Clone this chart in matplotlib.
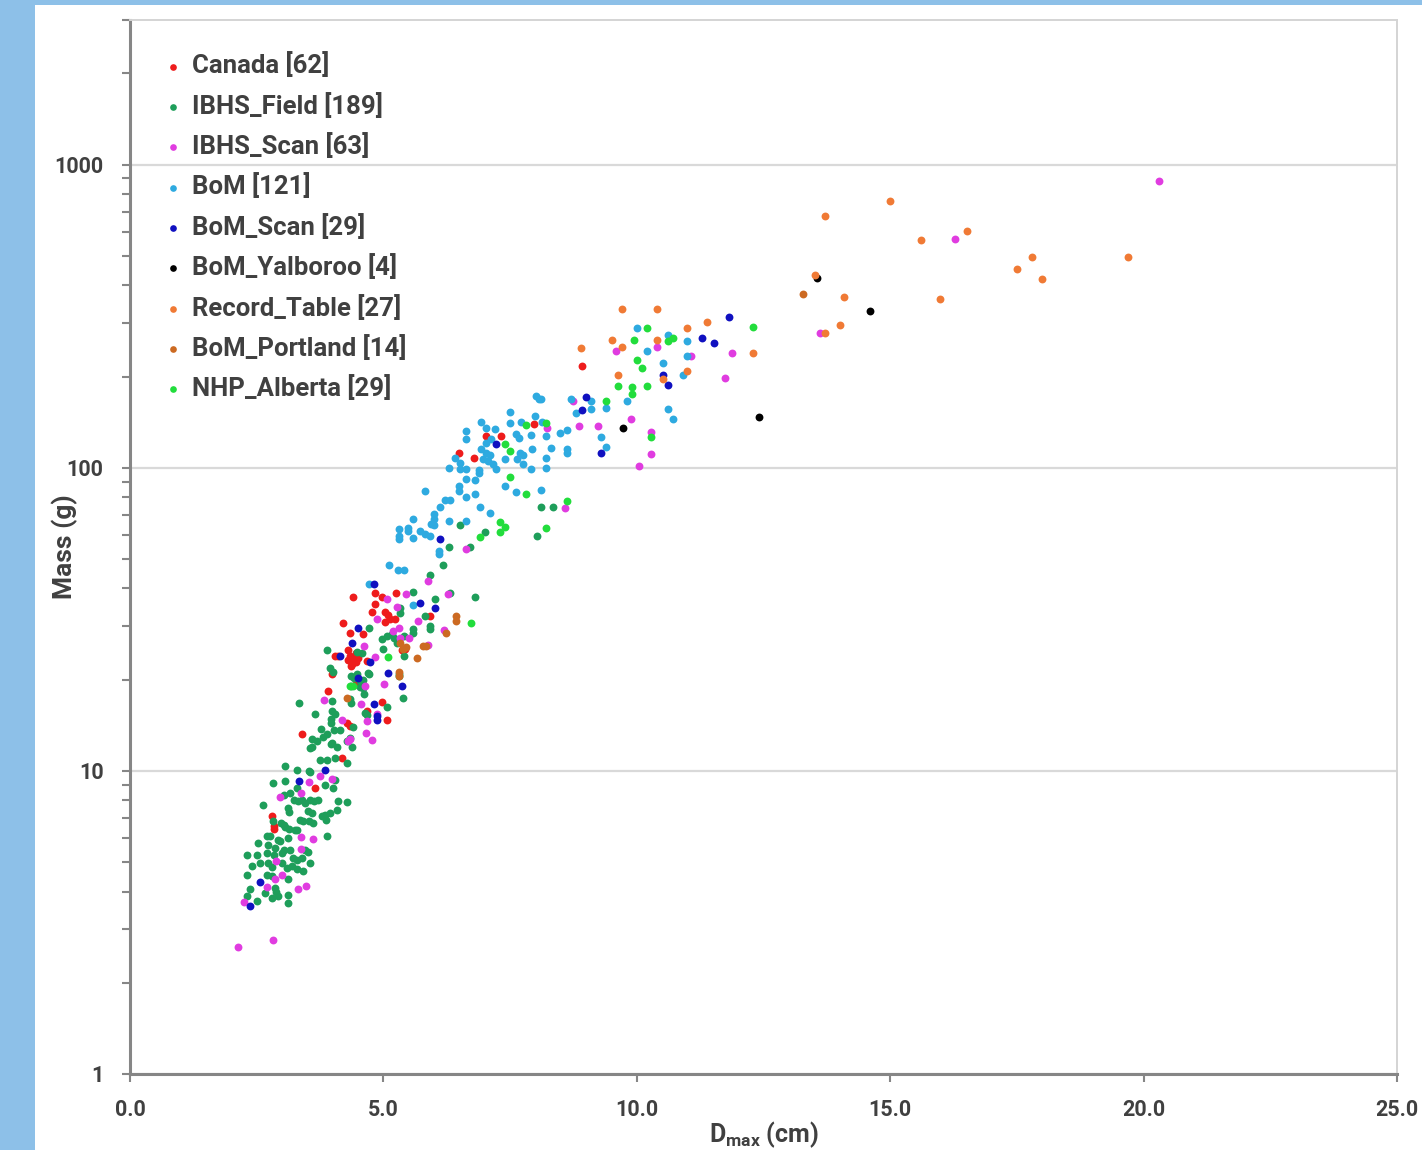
import matplotlib
matplotlib.use("Agg")
import matplotlib.pyplot as plt
from matplotlib.patches import Rectangle
from matplotlib.ticker import LogLocator, NullFormatter, FormatStrFormatter

plt.rcParams['font.family'] = ['Roboto', 'DejaVu Sans']
plt.rcParams['font.weight'] = 'bold'
plt.rcParams['axes.labelweight'] = 'bold'
plt.rcParams['mathtext.fontset'] = 'custom'
plt.rcParams['mathtext.rm'] = 'Roboto:bold'
plt.rcParams['mathtext.default'] = 'regular'

# Dmax (cm) and mass (g)
canada_d = [4.41, 4.83, 4.98, 5.24, 4.83, 4.78, 5.04, 5.09, 5.13, 5.22, 5.92, 4.21, 5.04, 4.34,
            4.60, 5.43, 5.36, 4.31, 4.37, 4.42, 4.34, 4.46, 4.39, 4.05, 4.11, 4.67, 3.98, 3.91,
            4.46, 4.97, 4.67, 4.28, 4.34, 5.07, 3.40, 4.18, 2.80, 2.84, 2.85, 3.65, 7.02, 7.33,
            6.50, 6.78, 7.98, 8.91, 4.40, 4.45, 4.36, 4.50, 4.30]
canada_m = [37.6, 38.5, 37.6, 38.5, 35.4, 33.5, 33.4, 32.6, 31.8, 31.8, 32.4, 30.8, 31.0, 28.6,
            28.3, 25.2, 25.0, 23.3, 23.0, 23.6, 24.0, 22.9, 22.6, 24.0, 24.0, 23.0, 20.9, 18.4,
            19.3, 16.9, 15.8, 14.4, 14.1, 14.7, 13.2, 11.0, 7.12, 6.56, 6.43, 8.79, 127, 127,
            112, 108, 139, 216, 23.2, 24.4, 22.2, 23.5, 25.0]

field_d = [2.83, 3.06, 3.55, 4.05, 4.01, 3.85, 3.16, 3.29, 3.03, 3.24, 3.31, 3.39, 3.45, 3.55,
           3.64, 3.70, 4.10, 4.28, 2.63, 3.11, 3.14, 3.52, 3.60, 3.85, 3.95, 4.08, 2.83, 2.98,
           3.03, 3.06, 3.14, 3.26, 3.35, 3.42, 3.53, 3.62, 3.78, 3.86, 2.70, 2.76, 2.93, 2.96,
           3.12, 3.29, 3.88, 2.53, 2.72, 2.86, 3.03, 3.16, 3.45, 3.51, 2.30, 2.50, 2.70, 2.85,
           2.99, 3.22, 3.29, 3.39, 3.55, 2.40, 2.57, 2.73, 2.80, 2.99, 3.09, 3.19, 3.29, 3.42,
           2.30, 2.70, 2.80, 3.12, 2.37, 2.86, 2.89, 2.93, 3.12, 2.30, 2.80, 3.11, 2.50, 2.66,
           6.17, 5.92, 5.59, 6.02, 5.92, 5.92, 6.81, 5.33, 5.33, 4.72, 4.97, 5.07, 5.16, 5.20,
           5.59, 5.41, 5.26, 4.99, 3.88, 4.47, 5.41, 3.95, 4.00, 4.37, 4.47, 4.37, 4.54, 4.70,
           4.60, 4.62, 5.31, 5.31, 5.39, 3.34, 3.65, 3.98, 4.05, 3.96, 3.96, 4.41, 3.76, 3.88,
           4.03, 4.14, 3.59, 3.68, 3.81, 3.98, 4.09, 4.28, 4.39, 3.55, 3.74, 3.88, 4.05, 3.06,
           3.29, 3.54, 4.28, 8.10, 8.35, 8.04, 6.52, 7.01, 6.30, 6.71, 6.32, 5.83, 5.59, 4.57,
           4.72, 4.42, 4.59, 4.54, 3.98, 4.34, 4.37, 5.07, 4.64, 4.68, 4.34, 3.60, 3.97]
field_m = [9.12, 9.23, 9.95, 9.35, 8.77, 8.99, 8.45, 8.77, 8.34, 8.00, 7.93, 8.04, 7.83, 8.04,
           7.93, 8.00, 7.93, 7.87, 7.69, 7.53, 7.29, 7.35, 7.26, 7.16, 7.26, 7.45, 6.81, 6.73,
           6.64, 6.53, 6.43, 6.40, 6.90, 6.81, 6.81, 6.73, 7.11, 6.87, 6.08, 6.08, 5.93, 5.85,
           6.00, 6.40, 6.08, 5.78, 5.70, 5.56, 5.50, 5.50, 5.50, 5.42, 5.28, 5.28, 5.36, 5.28,
           5.36, 5.15, 5.09, 5.15, 4.97, 4.84, 4.97, 4.97, 4.81, 4.97, 4.78, 4.84, 4.74, 4.69,
           4.54, 4.54, 4.49, 4.40, 4.07, 4.10, 4.00, 3.87, 3.90, 3.87, 3.80, 3.66, 3.71, 3.95,
           47.6, 44.2, 38.8, 36.8, 30.1, 29.3, 37.6, 34.5, 33.3, 29.6, 27.2, 27.9, 28.2, 27.5,
           29.3, 27.9, 26.5, 25.3, 25.0, 24.6, 23.9, 21.9, 21.2, 20.6, 20.8, 19.0, 19.8, 21.1,
           18.8, 17.9, 20.8, 20.6, 17.4, 16.7, 15.4, 15.7, 15.4, 14.8, 14.4, 14.0, 13.7, 13.2,
           13.6, 13.6, 12.7, 12.5, 12.9, 12.4, 12.0, 12.5, 12.0, 11.9, 10.9, 10.9, 11.0, 10.4,
           10.1, 9.98, 10.6, 74.5, 74.5, 59.7, 64.9, 61.2, 54.6, 54.8, 38.5, 32.4, 28.6, 24.5,
           20.9, 20.2, 20.0, 18.9, 17.0, 17.2, 16.8, 16.2, 15.5, 15.3, 12.8, 12.0, 12.3]

scan_d = [20.30, 16.28, 13.61, 9.59, 10.39, 11.07, 11.87, 11.74, 8.75, 9.88, 8.85, 9.23, 10.29,
          10.29, 10.04, 8.23, 6.62, 8.58, 5.88, 6.27, 5.08, 5.45, 5.27, 4.88, 5.30, 5.69, 5.51,
          6.20, 5.88, 4.62, 5.18, 5.33, 4.84, 4.64, 5.01, 3.82, 4.56, 4.18, 4.68, 4.88, 4.31,
          4.35, 4.66, 4.77, 3.75, 3.98, 3.54, 3.37, 2.95, 3.37, 3.62, 3.37, 2.89, 2.86, 2.99,
          2.70, 3.31, 3.47, 2.25, 2.83, 2.14]
scan_m = [880, 569, 278, 242, 251, 233, 239, 198, 166, 145, 137, 137, 131, 111, 101, 135, 53.8,
          73.5, 42.2, 38.3, 36.8, 38.3, 34.8, 31.8, 29.7, 31.3, 27.4, 29.2, 26.0, 25.8, 28.9,
          27.5, 23.8, 19.0, 19.4, 17.1, 16.6, 14.7, 14.6, 15.4, 12.5, 12.7, 13.3, 12.6, 9.6,
          9.4, 9.2, 8.45, 8.2, 6.05, 5.97, 5.53, 5.05, 4.40, 4.54, 4.13, 4.07, 4.18, 3.69,
          2.77, 2.63]

bom_d = [10.00, 10.62, 11.00, 10.20, 10.52, 11.00, 10.91, 8.71, 9.10, 9.10, 8.81, 9.39, 9.81,
         10.62, 10.71, 9.29, 9.39, 8.62, 8.49, 8.62, 8.62, 8.30, 8.20, 8.20, 8.20, 8.11, 8.12,
         7.50, 8.00, 7.49, 6.92, 7.03, 7.20, 7.72, 6.63, 6.63, 7.62, 7.68, 7.91, 7.03, 7.12,
         6.92, 6.41, 6.51, 7.03, 7.10, 6.97, 7.07, 7.17, 7.22, 7.40, 7.70, 7.75, 7.63, 7.76,
         7.93, 6.30, 6.51, 6.63, 6.63, 6.81, 6.89, 6.89, 6.49, 6.49, 6.62, 6.81, 7.40, 7.62,
         7.91, 8.10, 5.82, 6.91, 7.10, 6.12, 6.22, 6.31, 6.00, 6.00, 5.93, 6.00, 6.30, 5.59,
         5.49, 5.49, 5.31, 5.31, 5.31, 5.59, 5.72, 5.82, 5.91, 6.63, 6.10, 6.10, 5.12, 5.29,
         5.41, 4.72, 8.02, 8.08, 5.59]
bom_m = [288, 274, 261, 242, 222, 233, 203, 169, 166, 156, 151, 158, 166, 156, 145, 126, 117,
         133, 130, 115, 112, 116, 127, 108, 100, 169, 142, 153, 148, 141, 142, 135, 134, 142,
         132, 124, 129, 125, 128, 121, 124, 115, 108, 104, 112, 110, 107, 105, 103, 99, 107,
         112, 110, 107, 103, 115, 99.5, 99, 99, 91.8, 91, 98, 96, 87, 84, 80, 82, 87, 83, 99,
         84.5, 83.6, 74.5, 70.8, 74.5, 78.3, 78.3, 70.3, 67.8, 65.2, 64.7, 66.5, 67.8, 63.5,
         62.0, 62.7, 59.6, 58.1, 58.5, 62.0, 60.4, 59.6, 66.5, 53.2, 51.9, 47.9, 46.0, 46.0,
         41.3, 172, 168, 35.3]

bomscan_d = [11.81, 11.29, 11.52, 10.52, 10.62, 9.00, 8.91, 9.29, 7.22, 6.11, 4.81, 5.72, 6.02,
             4.50, 4.39, 4.14, 4.74, 4.49, 5.10, 5.36, 4.81, 4.87, 4.87, 3.85, 3.34, 2.57, 2.37]
bomscan_m = [314, 267, 257, 203, 188, 171, 155, 112, 120, 58, 41.3, 35.9, 34.4, 29.5, 26.4, 24.0,
             22.9, 20.3, 21.0, 19.0, 16.6, 14.7, 15.2, 10.1, 9.24, 4.29, 3.59]

yal_d = [13.56, 14.60, 12.41, 9.73]
yal_m = [423, 329, 147, 135]

record_d = [13.71, 15.00, 15.61, 16.51, 17.80, 17.50, 17.99, 19.69, 13.51, 14.09, 15.99, 14.00,
            13.71, 9.71, 10.39, 8.90, 11.00, 11.39, 9.52, 10.39, 9.71, 12.29, 9.62, 10.52, 11.00]
record_m = [678, 758, 564, 606, 497, 451, 418, 497, 434, 365, 361, 295, 278, 334, 334, 248, 288,
            303, 264, 264, 251, 239, 203, 196, 209]

portland_d = [13.28, 6.43, 6.43, 6.23, 5.79, 5.66, 5.31, 5.31, 5.45, 5.33, 4.28, 5.85, 5.39]
portland_m = [375, 32.4, 31.2, 28.4, 25.9, 23.5, 21.2, 20.5, 25.6, 26.5, 17.4, 25.9, 25.2]

nhp_d = [10.20, 12.29, 9.95, 10.62, 10.71, 10.00, 10.10, 9.62, 9.91, 9.91, 10.20, 9.39, 8.20,
         10.29, 7.81, 7.40, 7.50, 7.50, 7.81, 7.30, 7.40, 7.30, 6.91, 8.20, 8.62, 6.73, 5.10,
         4.34, 4.41]
nhp_m = [288, 291, 264, 261, 267, 227, 213, 186, 184, 175, 186, 166, 140, 126, 138, 120, 114,
         93, 82, 66.4, 64, 61.5, 58.9, 63.5, 77.6, 30.8, 23.8, 19.1, 19.1]

series = [
    ("Canada [62]", canada_d, canada_m, "#ee1c1c"),
    ("IBHS_Field [189]", field_d, field_m, "#1e9e5a"),
    ("IBHS_Scan [63]", scan_d, scan_m, "#e03ce0"),
    ("BoM [121]", bom_d, bom_m, "#2eaae0"),
    ("BoM_Scan [29]", bomscan_d, bomscan_m, "#1010c0"),
    ("BoM_Yalboroo [4]", yal_d, yal_m, "#000000"),
    ("Record_Table [27]", record_d, record_m, "#f07a35"),
    ("BoM_Portland [14]", portland_d, portland_m, "#cc6a22"),
    ("NHP_Alberta [29]", nhp_d, nhp_m, "#22dd3c"),
]

fig = plt.figure(figsize=(14.22, 11.5), dpi=100)
fig.patch.set_facecolor("#8dc0e8")
fig.patches.append(Rectangle((35 / 1422, 0), 1 - 35 / 1422, 1 - 5 / 1150,
                             transform=fig.transFigure, facecolor="white", edgecolor="none",
                             zorder=-10))

ax = fig.add_axes([130 / 1422, 76 / 1150, 1267 / 1422, 1054 / 1150])
ax.set_facecolor("white")

for label, d, m, c in series:
    ax.scatter(d, m, s=32, color=c, linewidths=0, label=label, zorder=3)

ax.set_yscale("log")
ax.set_ylim(1, 3000)
ax.set_xlim(0, 25)
ax.set_xticks([0, 5, 10, 15, 20, 25])
ax.xaxis.set_major_formatter(FormatStrFormatter("%.1f"))
ax.set_yticks([1, 10, 100, 1000])
ax.set_yticklabels(["1", "10", "100", "1000"])
ax.yaxis.set_minor_locator(LogLocator(base=10, subs=range(2, 10)))
ax.yaxis.set_minor_formatter(NullFormatter())

ax.grid(True, axis="y", which="major", color="#d9d9d9", lw=1.6, zorder=0)

for side in ["left", "bottom"]:
    ax.spines[side].set_color("#868686")
    ax.spines[side].set_linewidth(2.2)
for side in ["top", "right"]:
    ax.spines[side].set_color("#d4d4d4")
    ax.spines[side].set_linewidth(1.4)

ax.tick_params(axis="both", which="both", direction="out", color="#868686", width=1.5,
               length=6, labelcolor="#404040", labelsize=15.5)
ax.tick_params(axis="y", pad=13)
ax.tick_params(axis="x", pad=12)

ax.set_ylabel("Mass (g)", fontsize=19, color="#404040")
ax.yaxis.set_label_coords(-0.041, 0.5)
ax.set_xlabel(r"D$_{max}$ (cm)", fontsize=18, color="#404040", labelpad=-1)

leg = ax.legend(loc="upper left", bbox_to_anchor=(0.0127, 0.979), frameon=False,
                fontsize=18.5, handletextpad=0.1, handlelength=1.3, labelspacing=0.56,
                markerscale=0.85, borderaxespad=0)
for t in leg.get_texts():
    t.set_color("#404040")

fig.savefig("out.png", dpi=100, facecolor=fig.get_facecolor())
